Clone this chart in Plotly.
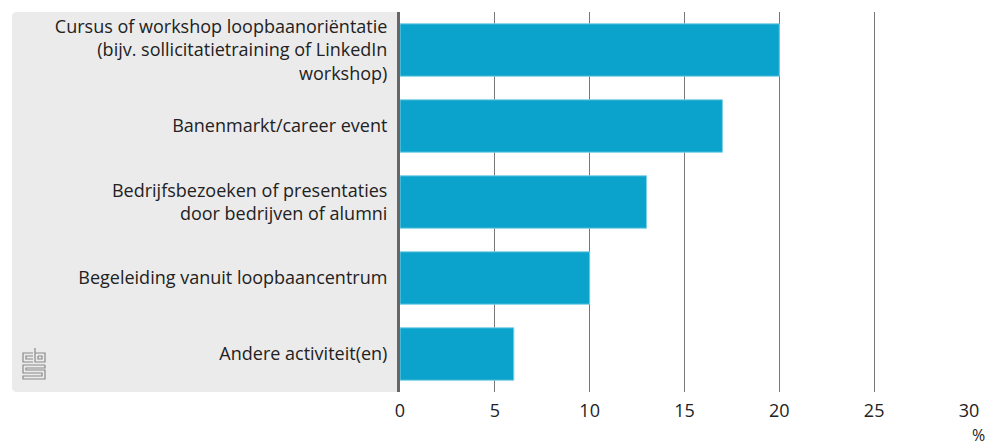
import plotly.graph_objects as go

categories = [
    "Cursus of workshop loopbaanoriëntatie<br>(bijv. sollicitatietraining of LinkedIn<br>workshop)",
    "Banenmarkt/career event",
    "Bedrijfsbezoeken of presentaties<br>door bedrijven of alumni",
    "Begeleiding vanuit loopbaancentrum",
    "Andere activiteit(en)",
]
values = [20, 17, 13, 10, 6]
x_ticks = [0, 5, 10, 15, 20, 25, 30]

W, H = 992, 447
ML, MR, MT, MB = 400, 23, 12, 55
PW, PH = W - ML - MR, H - MT - MB


def px(x):
    return (x - ML) / PW


def py(y):
    return (H - MB - y) / PH


def path(points, close=False):
    s = "M" + " L".join(f"{px(a):.5f},{py(b):.5f}" for a, b in points)
    return s + (" Z" if close else "")


fig = go.Figure()
fig.add_trace(go.Bar(
    x=values, y=categories, orientation="h",
    marker=dict(color="#0ba3cc", line=dict(color="#7fd0e6", width=1)),
    hoverinfo="x+y",
))

# grey label panel with rounded left corners
r = 5
x0, x1, y0, y1 = 12, 400, 12, 392
panel = (f"M{px(x1)},{py(y0)} L{px(x0 + r)},{py(y0)} Q{px(x0)},{py(y0)} {px(x0)},{py(y0 + r)} "
         f"L{px(x0)},{py(y1 - r)} Q{px(x0)},{py(y1)} {px(x0 + r)},{py(y1)} L{px(x1)},{py(y1)} Z")
shapes = [dict(type="path", xref="paper", yref="paper", path=panel,
               fillcolor="#ebebeb", line=dict(width=0), layer="below")]

# cbs logo (decoration)
lx, ly = 23, 348
def L(pts):
    return [(lx + a, ly + b) for a, b in pts]
logo_paths = [
    L([(10, 5), (0, 5), (0, 14), (10, 14)]),
    L([(10, 8), (3, 8), (3, 11), (10, 11)]),
    L([(12, 0), (12, 14), (22, 14), (22, 5), (12, 5)]),
    L([(15, 8), (19, 8), (19, 11), (15, 11), (15, 8)]),
    L([(22, 17), (0, 17), (0, 25), (19, 25), (19, 28), (0, 28), (0, 31), (22, 31),
       (22, 22), (3, 22), (3, 20), (22, 20), (22, 17)]),
]
for p in logo_paths:
    shapes.append(dict(type="path", xref="paper", yref="paper", path=path(p),
                       line=dict(color="#8a8a8a", width=1.2)))

FONT = "Open Sans"
fig.update_layout(
    width=W, height=H,
    margin=dict(l=ML, r=MR, t=MT, b=MB, pad=0),
    paper_bgcolor="white", plot_bgcolor="rgba(0,0,0,0)",
    font=dict(family=FONT, size=18, color="#222222"),
    bargap=0.31,
    showlegend=False,
    shapes=shapes,
    xaxis=dict(range=[0, 30], tickvals=x_ticks, ticktext=[str(v) for v in x_ticks],
               showgrid=True, gridcolor="#777777", gridwidth=1, zeroline=False,
               showline=False, ticks="", ticklabelstandoff=6,
               tickfont=dict(family=FONT, size=18, color="#222222")),
    yaxis=dict(autorange="reversed", showgrid=False, zeroline=False,
               showline=True, linecolor="#666666", linewidth=3,
               ticks="", ticklabelstandoff=6,
               tickfont=dict(family=FONT, size=18, color="#222222")),
    annotations=[dict(text="%", xref="paper", yref="paper", x=px(978), y=py(435),
                      xanchor="center", yanchor="middle", showarrow=False,
                      font=dict(family=FONT, size=16, color="#222222"))],
)

fig.write_html("out.html", config={"displayModeBar": False},
               post_script="document.body.style.margin='0';document.body.style.overflow='hidden';")
